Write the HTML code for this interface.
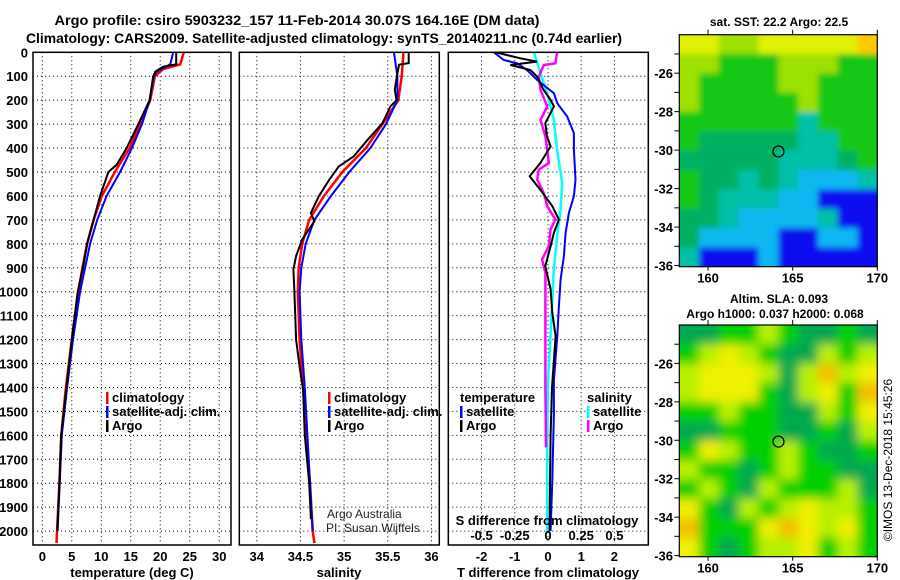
<!DOCTYPE html>
<html><head><meta charset="utf-8">
<style>
html,body{margin:0;padding:0;background:#fff;}
svg{display:block;font-family:"Liberation Sans",sans-serif;}
.b{font-weight:bold;}
</style></head>
<body>
<svg id="chart" width="900" height="580" viewBox="0 0 900 580" xmlns="http://www.w3.org/2000/svg">
<defs>
<filter id="blurA" x="-5%" y="-5%" width="110%" height="110%"><feGaussianBlur stdDeviation="3"/></filter>
<filter id="blurB" x="-5%" y="-5%" width="110%" height="110%"><feGaussianBlur stdDeviation="5"/></filter>
<clipPath id="clipM1"><rect x="679.3" y="34.7" width="198" height="232"/></clipPath>
<clipPath id="clipM2"><rect x="679.3" y="325" width="198" height="231.7"/></clipPath>
</defs>
<text x="297" y="25" text-anchor="middle" class="b" font-size="14" textLength="485" lengthAdjust="spacingAndGlyphs">Argo profile: csiro 5903232_157 11-Feb-2014 30.07S 164.16E (DM data)</text>
<text x="324" y="43" text-anchor="middle" class="b" font-size="14" textLength="596" lengthAdjust="spacingAndGlyphs">Climatology: CARS2009. Satellite-adjusted climatology: synTS_20140211.nc (0.74d earlier)</text>
<g id="plots"></g>
</svg>
<script>
// ---------- Data ----------
const depthTicks = [0,100,200,300,400,500,600,700,800,900,1000,1100,1200,1300,1400,1500,1600,1700,1800,1900,2000];
const tempTicks = [0,5,10,15,20,25,30];
const salTicks = [34,34.5,35,35.5,36];
const salTickLabels = ["34","34.5","35","35.5","36"];
const tdiffTicks = [-2,-1,0,1,2];
const sdiffTicks = [-0.5,-0.25,0,0.25,0.5];
const sdiffTickLabels = ["-0.5","-0.25","0","0.25","0.5"];

// temperature profiles [depth, T]
const tempArgo = [[0,22.7],[50,22.7],[60,20.5],[80,19.2],[100,18.8],[200,18.2],[300,16.3],[400,14.3],[470,12.6],[500,11.2],[600,9.8],[700,8.7],[800,7.6],[900,6.9],[1000,6.0],[1200,5.0],[1400,4.1],[1600,3.2],[1800,2.9],[2000,2.55]];
const tempClim = [[0,24.0],[50,23.4],[70,20.5],[100,19.1],[200,18.3],[300,16.6],[400,14.8],[500,12.3],[600,10.1],[700,8.7],[800,7.6],[900,6.8],[1000,6.1],[1200,5.0],[1400,4.0],[1600,3.2],[1800,2.9],[1950,2.6],[2050,2.4]];
const tempSat = [[0,22.2],[50,21.7],[80,19.4],[100,18.9],[200,18.2],[300,16.9],[400,15.2],[500,13.2],[600,10.9],[700,9.3],[800,8.1],[900,7.25],[1000,6.4],[1200,5.2],[1400,4.2],[1600,3.3],[1800,2.95],[2000,2.6]];
// salinity profiles [depth, S]
const salArgo = [[0,35.74],[45,35.74],[52,35.63],[87,35.61],[157,35.58],[200,35.6],[226,35.53],[296,35.44],[365,35.27],[435,35.11],[476,34.94],[532,34.83],[601,34.71],[671,34.62],[706,34.66],[782,34.52],[851,34.45],[907,34.42],[990,34.43],[1200,34.45],[1313,34.49],[1410,34.53],[1600,34.55],[1800,34.6],[1950,34.62]];
const salClim = [[0,35.68],[100,35.66],[200,35.62],[300,35.44],[400,35.25],[500,34.98],[600,34.77],[700,34.6],[800,34.52],[900,34.48],[1000,34.47],[1200,34.49],[1400,34.53],[1600,34.57],[1800,34.61],[2000,34.64],[2050,34.66]];
const salSat = [[0,35.57],[100,35.61],[200,35.61],[300,35.48],[400,35.3],[500,35.06],[600,34.85],[700,34.66],[800,34.56],[900,34.51],[1000,34.49],[1200,34.51],[1400,34.55],[1600,34.58],[1800,34.61],[2000,34.64]];
// differences from climatology
const tdiffArgo = [[0,-1.58],[25,-0.83],[39,-0.33],[53,-1.13],[74,-0.53],[101,-0.33],[157,-0.13],[199,0.08],[226,0.18],[296,-0.08],[351,-0.03],[393,0.08],[463,-0.23],[518,-0.55],[574,-0.23],[643,0.13],[699,0.33],[754,0.18],[810,0.08],[893,-0.08],[990,0.08],[1088,0.13],[1185,0.23],[1400,0.12],[1600,0.08],[1800,0.06],[2000,0.05]];
const tdiffSat = [[0,-1.63],[32,-1.33],[46,-0.93],[74,-0.63],[115,-0.33],[171,0.18],[213,0.28],[268,0.58],[338,0.78],[407,0.78],[532,0.83],[601,0.78],[671,0.63],[754,0.53],[851,0.48],[949,0.38],[1060,0.33],[1185,0.28],[1370,0.18],[1510,0.18],[1790,0.13],[2000,0.08]];
const sdiffSat = [[0,-0.106],[88,-0.056],[171,-0.006],[282,0.044],[407,0.069],[546,0.107],[657,0.094],[768,0.069],[907,0.044],[1185,0.019],[1370,0],[1650,-0.006],[2000,-0.006]];
const sdiffArgo = [[0,0.069],[46,0.056],[53,-0.031],[101,-0.069],[157,-0.056],[226,-0.006],[282,-0.056],[351,-0.019],[407,-0.006],[463,0.006],[490,-0.069],[532,-0.081],[588,-0.031],[643,-0.006],[699,0.056],[740,0.019],[810,0.006],[865,-0.044],[921,-0.019],[1060,-0.019],[1185,-0.019],[1400,-0.019],[1650,-0.015]];

// map grids (rows top->bottom lat -24..-36, cols lon 158.3..170)
const sstGrid = ["YYLLYYYYYO","LLGGGLLLGG","LGGGGLLGGG","LGGGGGLGGG","GGGGGGTGGG","GDDDDDTTGG","DDDDDTTTDG","GDDTDTCCCT","GDTTTCCBBB","DDTCCCCTBB","DCCCCBBCCB","TBBBCBBBBB"];
const slaGrid = ["DDGGLGDDGD","GLYLGDDLGL","LYYYLDLOLY","LYYYGDLYGO","GGLGGDDLGY","DDGGGDDGDL","GYLGGLGDDG","LGGDGLGGDD","GLGDLGGGLD","YGDLGLYLLG","OGGGYOYLYG","YGDGLLYGLG"];
const latTicks = [-26,-28,-30,-32,-34,-36];
const lonTicks = [160,165,170];
const argoLon = 164.16, argoLat = -30.07;

// ---------- Drawing ----------
const NS="http://www.w3.org/2000/svg";
const root=document.getElementById('plots');
function mk(tag,attrs,parent){const e=document.createElementNS(NS,tag);for(const k in attrs)e.setAttribute(k,attrs[k]);(parent||root).appendChild(e);return e;}
const yTop=52.3, yBot=545, dPx=0.2394;
const yD = d => yTop + d*dPx;
function linScale(d0,d1,p0,p1){return v=>p0+(v-d0)*(p1-p0)/(d1-d0);}

const panels=[
 {x0:33,x1:231,dom:[-1.58,32.0],name:'temperature-panel'},
 {x0:239.3,x1:439.3,dom:[33.80,36.09],name:'salinity-panel'},
 {x0:448.3,x1:648.3,dom:[-3,3.02],name:'difference-panel'}
];
panels.forEach(p=>{p.sx=linScale(p.dom[0],p.dom[1],p.x0,p.x1);});

function grid(p,xt){
 const g=mk('g',{});
 
 
 depthTicks.forEach(d=>{ if(d===0) return;
   mk('line',{x1:p.x0,x2:p.x1,y1:yD(d),y2:yD(d),stroke:'#000','stroke-width':1,'stroke-dasharray':'1 3'},g);});
 xt.forEach(v=>{ mk('line',{x1:p.sx(v),x2:p.sx(v),y1:yTop,y2:yBot,stroke:'#000','stroke-width':1,'stroke-dasharray':'1 3'},g);});
}
function frame(p){
 const r=mk('rect',{x:p.x0,y:yTop,width:p.x1-p.x0,height:yBot-yTop,fill:'none',stroke:'#000','stroke-width':1.5});
 
 
}
function series(p,data,color,w,name,xf){
 const f=xf||(v=>v);
 const pts=data.map(d=>p.sx(f(d[1])).toFixed(1)+','+yD(d[0]).toFixed(1)).join(' ');
 const l=mk('polyline',{points:pts,fill:'none',stroke:color,'stroke-width':w,'stroke-linejoin':'miter'});
 
 
}
function txt(x,y,s,opts){
 const t=mk('text',Object.assign({x:x,y:y,'font-size':13,'font-weight':'bold'},opts||{}));
 t.textContent=s; return t;
}

grid(panels[0],tempTicks);
grid(panels[1],salTicks);
grid(panels[2],tdiffTicks);

depthTicks.forEach(d=>{
 const t=txt(28,yD(d)+5,String(d),{'text-anchor':'end'});
 
 
});

series(panels[0],tempClim,'#f00',2.5,'temperature-climatology-line');
series(panels[0],tempSat,'#00f',2,'temperature-satellite-line');
series(panels[0],tempArgo,'#000',2,'temperature-argo-line');
tempTicks.forEach(v=>{const t=txt(panels[0].sx(v),561,String(v),{'text-anchor':'middle'});
 
 });
let t1=txt(132,577,'temperature (deg C)',{'text-anchor':'middle'});



series(panels[1],salClim,'#f00',2.5,'salinity-climatology-line');
series(panels[1],salSat,'#00f',2,'salinity-satellite-line');
series(panels[1],salArgo,'#000',2,'salinity-argo-line');
salTicks.forEach((v,i)=>{const t=txt(panels[1].sx(v),561,salTickLabels[i],{'text-anchor':'middle'});
 
 });
let t2=txt(339,577,'salinity',{'text-anchor':'middle'});



const sToT = v=>v*4;
series(panels[2],sdiffSat,'#0ff',2.5,'salinity-diff-satellite-line',sToT);
series(panels[2],sdiffArgo,'#f0f',2.5,'salinity-diff-argo-line',sToT);
series(panels[2],tdiffSat,'#00f',2,'temperature-diff-satellite-line');
series(panels[2],tdiffArgo,'#000',2,'temperature-diff-argo-line');
tdiffTicks.forEach(v=>{const t=txt(panels[2].sx(v),561,String(v),{'text-anchor':'middle'});
 
 });
sdiffTicks.forEach((v,i)=>{const t=txt(panels[2].sx(sToT(v)),540,sdiffTickLabels[i],{'text-anchor':'middle'});
 
 });
let t3=txt(547,525,'S difference from climatology',{'text-anchor':'middle'});


let t4=txt(548,577,'T difference from climatology',{'text-anchor':'middle'});



panels.forEach(frame);

function legend(x,y,items,name){
 const g=mk('g',{});
 
 
 items.forEach((it,i)=>{
  const yy=y+i*14;
  if(it[1]) mk('rect',{x:x,y:yy-10,width:2.5,height:12,fill:it[1]},g);
  const t=txt(x+(it[1]?6:0),yy,it[0],{});
  g.appendChild(t);
 });
}
legend(106,402,[['climatology','#f00'],['satellite-adj. clim.','#00f'],['Argo','#000']],'temperature-legend');
legend(328,402,[['climatology','#f00'],['satellite-adj. clim.','#00f'],['Argo','#000']],'salinity-legend');
legend(460,402,[['temperature',null],['satellite','#00f'],['Argo','#000']],'tdiff-legend');
legend(587,402,[['salinity',null],['satellite','#0ff'],['Argo','#f0f']],'sdiff-legend');
const ta=mk('text',{x:327,y:518,'font-size':12,fill:'#222'});ta.textContent='Argo Australia';


const tp=mk('text',{x:326,y:532,'font-size':12,fill:'#222'});tp.textContent='PI: Susan Wijffels';



const colSST={Y:'#e0f000',L:'#9ee000',G:'#18c818',D:'#00b060',T:'#00c0a8',C:'#10b8f0',B:'#0808f0',O:'#ffc800'};
const colSLA={D:'#00a850',G:'#00d000',L:'#b8f000',Y:'#f0f000',O:'#f0c000'};
function drawMap(y0,y1,gridRows,cols,blur,clip,name,title1,title2,bg){
 const x0=679.3,x1=877.3;
 const lx=linScale(158.3,170,x0,x1), ly=linScale(-24,-36.06,y0,y1);
 const g=mk('g',{});
 
 
 mk('rect',{x:x0,y:y0,width:x1-x0,height:y1-y0,fill:bg},g);
 const cg=mk('g',{'clip-path':'url(#'+clip+')'},g);
 const ig=mk('g',{filter:'url(#'+blur+')'},cg);
 const nr=gridRows.length,nc=gridRows[0].length;
 const cw=(x1-x0)/nc,ch=(y1-y0)/nr;
 gridRows.forEach((row,r)=>{[...row].forEach((c,k)=>{
   const cell=mk('rect',{x:x0+k*cw-(k==0?12:0),y:y0+r*ch-(r==0?12:0),width:cw+0.6+(k==0||k==nc-1?12:0),height:ch+0.6+(r==0||r==nr-1?12:0),fill:cols[c]},ig);
   
   
 });});
 const c=mk('circle',{cx:lx(argoLon),cy:ly(argoLat),r:5.5,fill:'none',stroke:'#000','stroke-width':1.2},g);
 
 
 mk('rect',{x:x0,y:y0,width:x1-x0,height:y1-y0,fill:'none',stroke:'#000','stroke-width':1.2},g);
 for(let la=-25;la>=-36;la--) mk('line',{x1:x0-5,x2:x0,y1:ly(la),y2:ly(la),stroke:'#000'},g);
 latTicks.forEach(la=>{const t=txt(673,ly(la)+5,String(la),{'text-anchor':'end'});g.appendChild(t);});
 lonTicks.forEach(lo=>{
   mk('line',{x1:lx(lo),x2:lx(lo),y1:y0-5,y2:y0,stroke:'#000'},g);
   mk('line',{x1:lx(lo),x2:lx(lo),y1:y1,y2:y1+4,stroke:'#000'},g);
   const t=txt(lx(lo),y1+16,String(lo),{'text-anchor':'middle'});g.appendChild(t);});
 const tt=txt(779,title1[1],title1[0],{'text-anchor':'middle','font-size':12});g.appendChild(tt);
 if(title2){const t2=txt(775,title2[1],title2[0],{'text-anchor':'middle','font-size':12});g.appendChild(t2);}
}
drawMap(34.7,266.7,sstGrid,colSST,'blurA','clipM1','sst-map',['sat. SST: 22.2 Argo: 22.5',26],null,'#10c040');
drawMap(325,556.7,slaGrid,colSLA,'blurB','clipM2','sla-map',['Altim. SLA: 0.093',303],['Argo h1000: 0.037 h2000: 0.068',318],'#00c030');

const ts=mk('text',{x:0,y:0,'font-size':12,transform:'translate(892,460) rotate(-90)','text-anchor':'middle'});
ts.textContent='©IMOS 13-Dec-2018 15:45:26';


</script>
</body></html>
